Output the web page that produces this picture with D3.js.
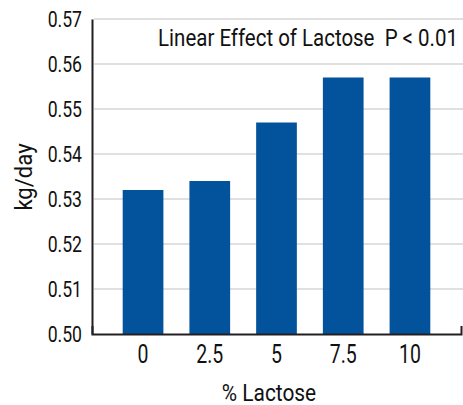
<!DOCTYPE html>
<html>
<head>
<meta charset="utf-8">
<script src="https://cdn.jsdelivr.net/npm/d3@7"></script>
<style>
  html, body { margin: 0; padding: 0; background: #fff; }
  svg text { font-family: "Roboto", "Liberation Sans", sans-serif; fill: #111; white-space: pre; }
</style>
</head>
<body>
<svg id="chart" width="463" height="405"></svg>
<script>
const categories = ["0", "2.5", "5", "7.5", "10"];
const values = [0.532, 0.534, 0.547, 0.557, 0.557];
const yTicks = [0.50, 0.51, 0.52, 0.53, 0.54, 0.55, 0.56, 0.57];
const annotation = "Linear Effect of Lactose  P < 0.01";
const xTitle = "% Lactose";
const yTitle = "kg/day";

(function () {
const svg = d3.select("#chart");
const mLeft = 92, mRight = 461, mTop = 19, mBottom = 334;

const x = d3.scaleBand().domain(categories).range([mLeft, mRight]).paddingInner(0.39).paddingOuter(0.46);
const y = d3.scaleLinear().domain([0.50, 0.57]).range([mBottom, mTop]);

// gridlines
svg.append("g").selectAll("line").data(yTicks.slice(1)).join("line")
  .attr("x1", mLeft + 2).attr("x2", 463)
  .attr("y1", d => y(d)).attr("y2", d => y(d))
  .attr("stroke", "#d6d6d6").attr("stroke-width", 1.6);

// bars
svg.append("g").selectAll("rect").data(values).join("rect")
  .attr("x", (d, i) => x(categories[i]))
  .attr("width", x.bandwidth())
  .attr("y", d => y(d))
  .attr("height", d => y(0.50) - y(d))
  .attr("fill", "#02529c");

// y axis
const yAxis = svg.append("g").attr("transform", `translate(${mLeft},0)`)
  .call(d3.axisLeft(y).tickValues(yTicks).tickFormat(d3.format(".2f")).tickSize(0));
yAxis.select(".domain").attr("stroke", "#231f20").attr("stroke-width", 2);
yAxis.selectAll(".tick text")
  .attr("x", 0).attr("dy", "0.35em")
  .attr("transform", "translate(-10,0) scale(0.8,1)")
  .attr("font-size", 22).attr("fill", "#111")
  .style("font-family", "Roboto, sans-serif");

// x axis
const xAxis = svg.append("g").attr("transform", `translate(0,${mBottom})`)
  .call(d3.axisBottom(x).tickSize(0).tickSizeOuter(-8).tickPadding(11));
xAxis.select(".domain").attr("stroke", "#231f20").attr("stroke-width", 2).attr("fill", "none");
xAxis.selectAll(".tick text")
  .attr("transform", "scale(0.78,1)")
  .attr("font-size", 25).attr("fill", "#111")
  .style("font-family", "Roboto, sans-serif");

// annotation
svg.append("text").attr("transform", "translate(458,46) scale(0.89,1)").attr("text-anchor", "end")
  .attr("font-size", 23).text(annotation);

// axis titles
svg.append("text").attr("transform", "translate(269,401) scale(0.87,1)").attr("text-anchor", "middle")
  .attr("font-size", 24).text(xTitle);
svg.append("text").attr("transform", "translate(32,177) rotate(-90) scale(0.92,1)").attr("text-anchor", "middle")
  .attr("font-size", 24).text(yTitle);
})();
</script>
</body>
</html>
